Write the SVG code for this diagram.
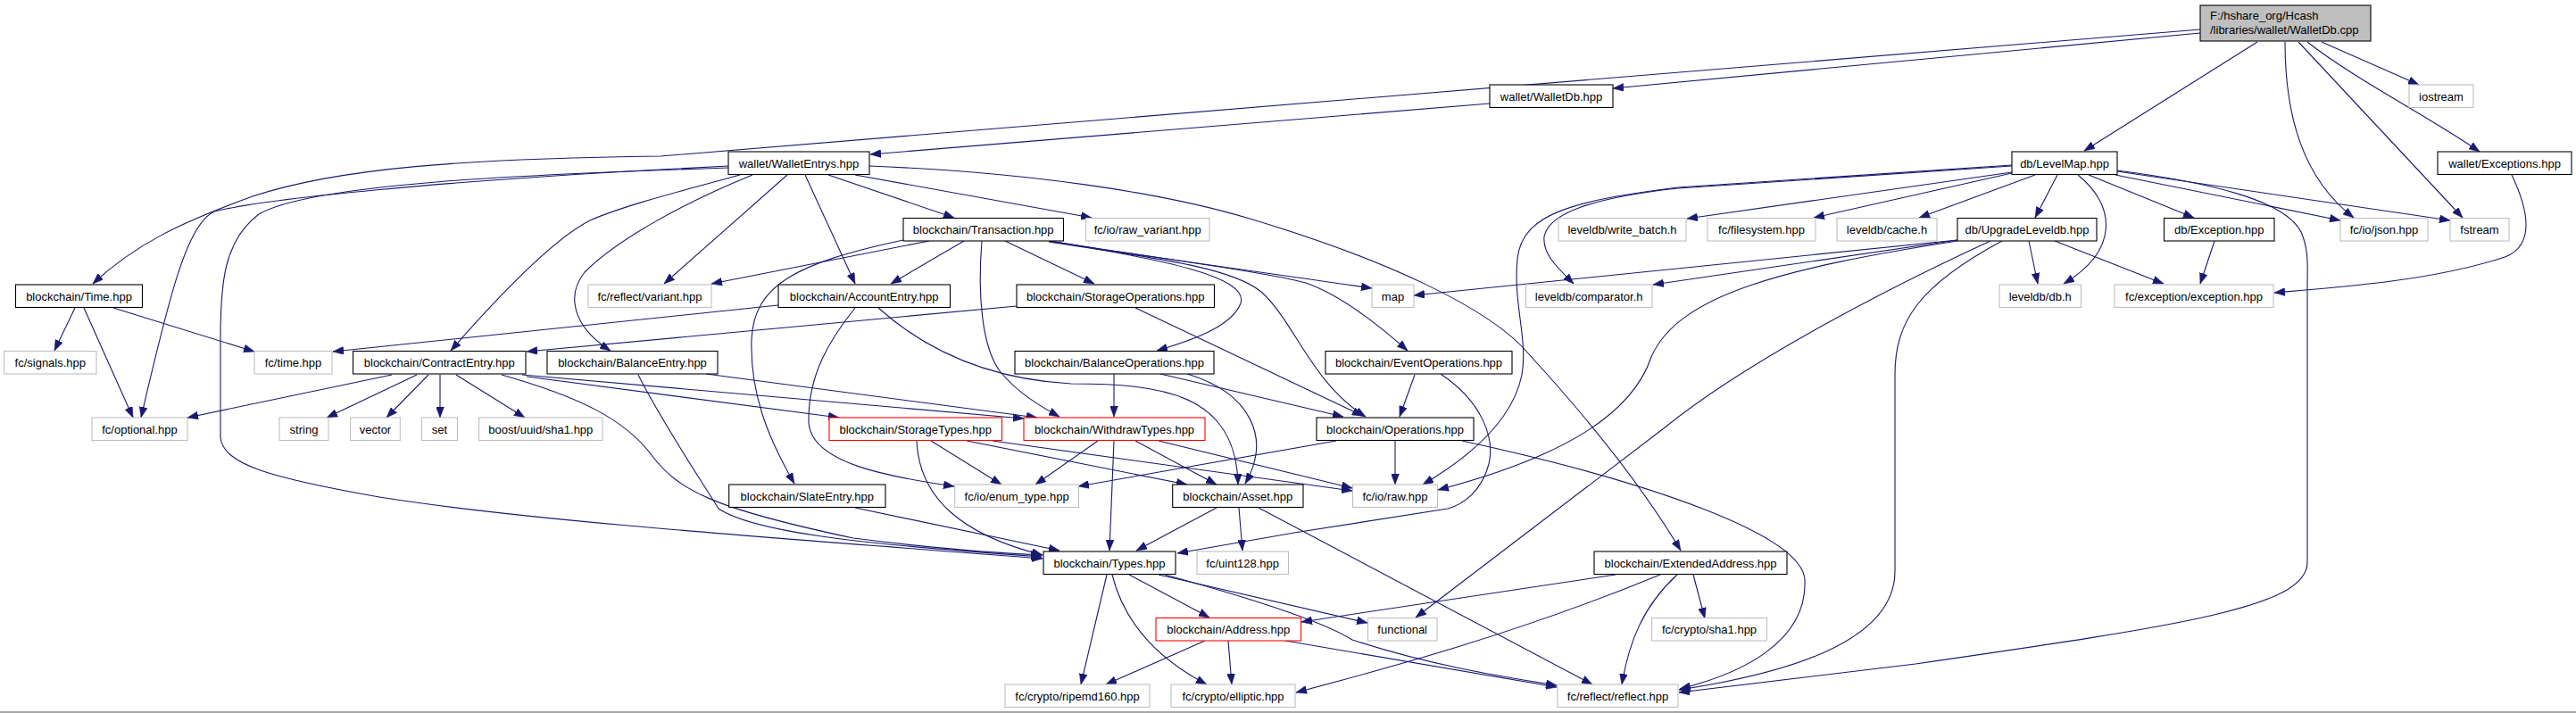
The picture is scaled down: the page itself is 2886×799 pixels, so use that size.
<svg xmlns="http://www.w3.org/2000/svg" width="2886" height="799" viewBox="0 0 2886 799">
<style>
.b rect{fill:#ffffff;stroke:#000000;stroke-width:1.1}
.g rect{fill:#ffffff;stroke:#bfbfbf;stroke-width:1.1}
.r rect{fill:#ffffff;stroke:#ff0000;stroke-width:1.1}
.m rect{fill:#bfbfbf;stroke:#000000;stroke-width:1.1}
text{font-family:"Liberation Sans",Arial,sans-serif;font-size:13px;fill:#000000;text-anchor:middle}
.m text{text-anchor:start}
#edges path{fill:none;stroke:#191970;stroke-width:1.1;marker-end:url(#ah)}
</style>
<defs>
<marker id="ah" markerUnits="userSpaceOnUse" markerWidth="12" markerHeight="9" refX="12" refY="4.5" orient="auto">
<path d="M0,0 L12,4.5 L0,9 z" fill="#191970" stroke="#191970" stroke-width="0.5"/>
</marker>
</defs>
<rect x="0" y="0" width="2886" height="799" fill="#ffffff"/>
<line x1="0" y1="798" x2="2886" y2="798" stroke="#8a8a8a" stroke-width="1.5"/>

<g id="edges">
<path d="M2465,37 L1807,99"/>
<path d="M2465,33 L740,175 C520,178 380,188 283,220 C200,250 150,275 104,318"/>
<path d="M2529,47 L2335,169"/>
<path d="M2601,47 L2710,95"/>
<path d="M2560,47 C2560,130 2580,200 2637,244"/>
<path d="M2575,47 L2759,244"/>
<path d="M2585,47 C2640,90 2720,130 2778,170"/>
<path d="M1669,116 L975,173"/>
<path d="M816,186 L740,190 C500,203 300,222 240,237 C210,250 190,330 158,468"/>
<path d="M816,188 C600,195 350,205 290,240 C250,270 247,320 247,380 L247,490 C250,520 300,535 425,557 C600,585 900,605 1168,626"/>
<path d="M829,196 C760,215 700,230 661,247 C620,268 560,330 505,393"/>
<path d="M843,196 C760,230 690,270 655,305 C635,330 640,365 684,393"/>
<path d="M882,196 L744,318"/>
<path d="M902,196 L958,318"/>
<path d="M928,196 L1069,244"/>
<path d="M958,196 L1223,244"/>
<path d="M974,186 C1150,193 1300,215 1400,245 C1550,290 1670,345 1713,397 C1780,470 1840,545 1883,617"/>
<path d="M1041,270 L797,318"/>
<path d="M1080,270 L998,318"/>
<path d="M1126,270 L1226,318"/>
<path d="M1012,269 C890,295 845,320 842,380 C840,440 860,490 890,542"/>
<path d="M1100,270 C1095,330 1100,390 1121,417 C1140,440 1165,455 1187,467"/>
<path d="M1175,270 C1300,290 1450,310 1537,323"/>
<path d="M1175,270 C1300,290 1420,305 1463,317 C1500,330 1540,360 1577,393"/>
<path d="M1175,271 C1300,290 1380,300 1413,327 C1450,360 1470,430 1530,467"/>
<path d="M1175,270 C1300,290 1400,310 1390,340 C1380,365 1340,380 1296,393"/>
<path d="M872,342 L373,394"/>
<path d="M958,345 C930,380 905,420 906,473 C908,520 1000,535 1069,545"/>
<path d="M984,345 C1040,395 1110,425 1200,430 C1300,430 1385,440 1387,543"/>
<path d="M1139,343 L590,394"/>
<path d="M1272,345 L1527,466"/>
<path d="M84,345 L61,393"/>
<path d="M94,345 L149,468"/>
<path d="M127,345 L285,394"/>
<path d="M439,420 L210,468"/>
<path d="M467,420 L366,468"/>
<path d="M480,420 L433,468"/>
<path d="M493,420 L493,468"/>
<path d="M511,420 L588,468"/>
<path d="M590,422 L940,468"/>
<path d="M585,420 L1147,469"/>
<path d="M562,420 C650,445 700,470 730,510 C760,550 800,570 956,603 C1050,615 1120,620 1167,622"/>
<path d="M715,420 C740,470 780,530 805,570 C850,600 1000,612 1167,624"/>
<path d="M791,419 L1162,468"/>
<path d="M958,569 L1187,617"/>
<path d="M1248,419 L1248,467"/>
<path d="M1330,419 C1400,440 1425,490 1395,542"/>
<path d="M1300,419 L1505,467"/>
<path d="M1585,420 L1568,467"/>
<path d="M1614,419 C1660,450 1675,490 1668,520 C1660,550 1640,565 1622,570 L1450,597 L1319,620"/>
<path d="M1043,494 L1122,543"/>
<path d="M1027,494 C1030,560 1080,600 1168,622"/>
<path d="M1083,494 L1330,543"/>
<path d="M1112,494 L1515,550"/>
<path d="M1230,494 L1160,543"/>
<path d="M1248,494 L1243,617"/>
<path d="M1272,494 L1363,543"/>
<path d="M1298,494 L1515,547"/>
<path d="M1497,494 L1208,545"/>
<path d="M1563,494 L1563,543"/>
<path d="M1638,494 C1850,540 2020,600 2022,650 C2025,720 1950,755 1882,772"/>
<path d="M1363,569 L1273,617"/>
<path d="M1388,569 L1392,617"/>
<path d="M1410,569 L1784,767"/>
<path d="M1240,644 L1211,767"/>
<path d="M1246,644 C1260,700 1300,740 1352,767"/>
<path d="M1265,644 L1355,692"/>
<path d="M1298,644 L1532,698"/>
<path d="M1305,644 C1400,670 1480,695 1515,717 C1600,745 1680,758 1744,768"/>
<path d="M1350,718 L1239,767"/>
<path d="M1376,718 L1380,767"/>
<path d="M1440,718 L1744,770"/>
<path d="M1810,644 L1458,697"/>
<path d="M1860,644 C1700,710 1550,750 1452,776"/>
<path d="M1879,644 C1840,680 1825,720 1817,767"/>
<path d="M1897,644 L1910,693"/>
<path d="M2193,269 L1584,331"/>
<path d="M2193,269 L1852,319"/>
<path d="M2193,270 C2000,300 1880,330 1850,400 C1830,460 1760,510 1611,549"/>
<path d="M2230,270 C2100,330 1950,410 1864,480 L1586,692"/>
<path d="M2243,270 C2150,320 2123,360 2123,420 L2123,640 C2123,720 2000,755 1881,773"/>
<path d="M2273,270 L2283,318"/>
<path d="M2302,270 L2424,318"/>
<path d="M2254,193 L1890,245"/>
<path d="M2254,194 L2032,244"/>
<path d="M2280,196 L2150,244"/>
<path d="M2305,196 L2280,244"/>
<path d="M2328,196 C2370,230 2375,280 2312,318"/>
<path d="M2340,196 L2458,244"/>
<path d="M2370,196 L2622,247"/>
<path d="M2372,192 L2745,247"/>
<path d="M2372,191 C2480,205 2560,225 2578,260 C2587,280 2585,300 2585,320 L2585,630 C2585,680 2450,700 2146,744 L1881,776"/>
<path d="M2254,186 L1880,211 C1780,222 1735,240 1730,265 C1728,285 1745,300 1763,318"/>
<path d="M2254,185 L1880,210 C1760,225 1705,240 1700,290 C1695,340 1712,380 1705,420 C1695,470 1650,510 1594,543"/>
<path d="M2814,196 C2835,240 2840,280 2800,290 C2720,315 2620,322 2548,328"/>
<path d="M2481,270 L2465,318"/>
</g>

<g id="n_main" class="m"><rect x="2465" y="6" width="191" height="40"/><text x="2476" y="22">F:/hshare_org/Hcash</text><text x="2476" y="38">/libraries/wallet/WalletDb.cpp</text></g>
<g id="n_walletdb" class="b"><rect x="1669" y="95" width="138" height="25.5"/><text x="1738" y="112.5">wallet/WalletDb.hpp</text></g>
<g id="n_iostream" class="g"><rect x="2699" y="95" width="72" height="25.5"/><text x="2735" y="112.5">iostream</text></g>
<g id="n_walletentrys" class="b"><rect x="816" y="170" width="158" height="25.5"/><text x="895" y="187.5">wallet/WalletEntrys.hpp</text></g>
<g id="n_levelmap" class="b"><rect x="2254" y="170" width="118" height="25.5"/><text x="2313" y="187.5">db/LevelMap.hpp</text></g>
<g id="n_wexceptions" class="b"><rect x="2731" y="170" width="150" height="25.5"/><text x="2806" y="187.5">wallet/Exceptions.hpp</text></g>
<g id="n_transaction" class="b"><rect x="1012" y="244.5" width="179.5" height="25.5"/><text x="1101.7" y="262">blockchain/Transaction.hpp</text></g>
<g id="n_rawvariant" class="g"><rect x="1216.5" y="244.5" width="138.5" height="25.5"/><text x="1285.7" y="262">fc/io/raw_variant.hpp</text></g>
<g id="n_writebatch" class="g"><rect x="1746" y="244.5" width="143" height="25.5"/><text x="1817.5" y="262">leveldb/write_batch.h</text></g>
<g id="n_filesystem" class="g"><rect x="1913" y="244.5" width="121" height="25.5"/><text x="1973.5" y="262">fc/filesystem.hpp</text></g>
<g id="n_cache" class="g"><rect x="2058" y="244.5" width="112" height="25.5"/><text x="2114" y="262">leveldb/cache.h</text></g>
<g id="n_upgrade" class="b"><rect x="2193" y="244.5" width="156" height="25.5"/><text x="2271" y="262">db/UpgradeLeveldb.hpp</text></g>
<g id="n_dbexception" class="b"><rect x="2424.5" y="244.5" width="123.5" height="25.5"/><text x="2486.2" y="262">db/Exception.hpp</text></g>
<g id="n_json" class="g"><rect x="2622" y="244.5" width="98" height="25.5"/><text x="2671" y="262">fc/io/json.hpp</text></g>
<g id="n_fstream" class="g"><rect x="2745" y="244.5" width="66" height="25.5"/><text x="2778" y="262">fstream</text></g>
<g id="n_time" class="b"><rect x="17.5" y="319" width="142" height="25.5"/><text x="88.5" y="336.5">blockchain/Time.hpp</text></g>
<g id="n_variant" class="g"><rect x="659" y="319" width="138" height="25.5"/><text x="728" y="336.5">fc/reflect/variant.hpp</text></g>
<g id="n_account" class="b"><rect x="872" y="319" width="192.5" height="25.5"/><text x="968.2" y="336.5">blockchain/AccountEntry.hpp</text></g>
<g id="n_storageops" class="b"><rect x="1139" y="319" width="221.5" height="25.5"/><text x="1249.7" y="336.5">blockchain/StorageOperations.hpp</text></g>
<g id="n_map" class="g"><rect x="1537" y="319" width="47" height="25.5"/><text x="1560.5" y="336.5">map</text></g>
<g id="n_comparator" class="g"><rect x="1709.5" y="319" width="141.5" height="25.5"/><text x="1780.2" y="336.5">leveldb/comparator.h</text></g>
<g id="n_dbh" class="g"><rect x="2240" y="319" width="91.5" height="25.5"/><text x="2285.7" y="336.5">leveldb/db.h</text></g>
<g id="n_fcexception" class="g"><rect x="2369" y="319" width="178" height="25.5"/><text x="2458" y="336.5">fc/exception/exception.hpp</text></g>
<g id="n_signals" class="g"><rect x="4.7" y="393.5" width="103.3" height="25.5"/><text x="56.3" y="411">fc/signals.hpp</text></g>
<g id="n_fctime" class="g"><rect x="285" y="393.5" width="87" height="25.5"/><text x="328.5" y="411">fc/time.hpp</text></g>
<g id="n_contract" class="b"><rect x="395.5" y="393.5" width="193.5" height="25.5"/><text x="492.2" y="411">blockchain/ContractEntry.hpp</text></g>
<g id="n_balance" class="b"><rect x="613" y="393.5" width="191" height="25.5"/><text x="708.5" y="411">blockchain/BalanceEntry.hpp</text></g>
<g id="n_balanceops" class="b"><rect x="1137" y="393.5" width="223" height="25.5"/><text x="1248.5" y="411">blockchain/BalanceOperations.hpp</text></g>
<g id="n_eventops" class="b"><rect x="1485" y="393.5" width="209" height="25.5"/><text x="1589.5" y="411">blockchain/EventOperations.hpp</text></g>
<g id="n_optional" class="g"><rect x="103" y="468" width="107" height="25.5"/><text x="156.5" y="485.5">fc/optional.hpp</text></g>
<g id="n_string" class="g"><rect x="313" y="468" width="55" height="25.5"/><text x="340.5" y="485.5">string</text></g>
<g id="n_vector" class="g"><rect x="392.6" y="468" width="55.7" height="25.5"/><text x="420.5" y="485.5">vector</text></g>
<g id="n_set" class="g"><rect x="472.4" y="468" width="40.1" height="25.5"/><text x="492.5" y="485.5">set</text></g>
<g id="n_uuidsha1" class="g"><rect x="536.6" y="468" width="138.4" height="25.5"/><text x="605.8" y="485.5">boost/uuid/sha1.hpp</text></g>
<g id="n_storagetypes" class="r"><rect x="929" y="468" width="193.5" height="25.5"/><text x="1025.7" y="485.5">blockchain/StorageTypes.hpp</text></g>
<g id="n_withdraw" class="r"><rect x="1147" y="468" width="203" height="25.5"/><text x="1248.5" y="485.5">blockchain/WithdrawTypes.hpp</text></g>
<g id="n_operations" class="b"><rect x="1475" y="468" width="176" height="25.5"/><text x="1563" y="485.5">blockchain/Operations.hpp</text></g>
<g id="n_slate" class="b"><rect x="816.7" y="543" width="175.3" height="25.5"/><text x="904.3" y="560.5">blockchain/SlateEntry.hpp</text></g>
<g id="n_enumtype" class="g"><rect x="1069.7" y="543" width="138.8" height="25.5"/><text x="1139.1" y="560.5">fc/io/enum_type.hpp</text></g>
<g id="n_asset" class="b"><rect x="1313.7" y="543" width="146.3" height="25.5"/><text x="1386.8" y="560.5">blockchain/Asset.hpp</text></g>
<g id="n_raw" class="g"><rect x="1515.5" y="543" width="95" height="25.5"/><text x="1563" y="560.5">fc/io/raw.hpp</text></g>
<g id="n_types" class="b"><rect x="1169" y="618" width="148" height="25.5"/><text x="1243" y="635.5">blockchain/Types.hpp</text></g>
<g id="n_uint128" class="g"><rect x="1341" y="618" width="102.5" height="25.5"/><text x="1392.2" y="635.5">fc/uint128.hpp</text></g>
<g id="n_extaddr" class="b"><rect x="1786" y="618" width="216" height="25.5"/><text x="1894" y="635.5">blockchain/ExtendedAddress.hpp</text></g>
<g id="n_address" class="r"><rect x="1295" y="692.5" width="162.6" height="25.5"/><text x="1376.3" y="710">blockchain/Address.hpp</text></g>
<g id="n_functional" class="g"><rect x="1532.5" y="692.5" width="77.5" height="25.5"/><text x="1571.2" y="710">functional</text></g>
<g id="n_sha1" class="g"><rect x="1850.6" y="692.5" width="128.8" height="25.5"/><text x="1915" y="710">fc/crypto/sha1.hpp</text></g>
<g id="n_ripemd" class="g"><rect x="1126" y="767" width="162" height="25.5"/><text x="1207" y="784.5">fc/crypto/ripemd160.hpp</text></g>
<g id="n_elliptic" class="g"><rect x="1312" y="767" width="139" height="25.5"/><text x="1381.5" y="784.5">fc/crypto/elliptic.hpp</text></g>
<g id="n_reflect" class="g"><rect x="1745" y="767" width="135" height="25.5"/><text x="1812.5" y="784.5">fc/reflect/reflect.hpp</text></g>
</svg>
